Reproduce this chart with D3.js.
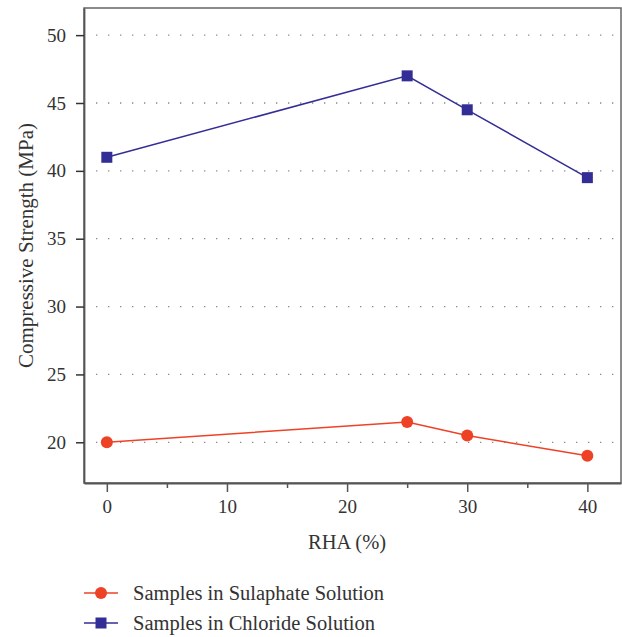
<!DOCTYPE html>
<html>
<head>
<meta charset="utf-8">
<script src="https://cdn.jsdelivr.net/npm/d3@7"></script>
<style>
body { margin: 0; background: #fff; }
text { font-family: "Liberation Serif", "DejaVu Serif", serif; fill: #333; }
</style>
</head>
<body>
<div id="graphDiv"></div>
<script>
// data
var rha = [0, 25, 30, 40];
var sulphate = [20, 21.5, 20.5, 19];
var chloride = [41, 47, 44.5, 39.5];
var xMajor = [0, 10, 20, 30, 40];
var xMinor = [5, 15, 25, 35];
var yTicks = [20, 25, 30, 35, 40, 45, 50];
var seriesNames = ["Samples in Sulaphate Solution", "Samples in Chloride Solution"];

var W = 622, H = 637;
var margin = {top: 8, right: 1, bottom: 154, left: 84},
width = W - margin.left - margin.right,
height = H - margin.top - margin.bottom;

var svg = d3.select("#graphDiv")
.append("svg")
.attr("width", W)
.attr("height", H);

var g = svg.append("g")
.attr("transform", "translate(" + margin.left + "," + margin.top + ")");

var x = d3.scaleLinear().domain([-1.9, 42.8]).range([0, width]);
var y = d3.scaleLinear().domain([17, 52]).range([height, 0]);

// dotted grid
g.selectAll(".grid")
.data(yTicks)
.enter()
.append("line")
.attr("x1", 12)
.attr("x2", width)
.attr("y1", function(d) { return y(d); })
.attr("y2", function(d) { return y(d); })
.attr("stroke", "#888")
.attr("stroke-width", 1.3)
.attr("stroke-dasharray", "1.3,10.7");

// frame
g.append("rect")
.attr("width", width)
.attr("height", height)
.attr("fill", "none")
.attr("stroke", "#666")
.attr("stroke-width", 1.5);

// y axis
var yAxis = g.append("g")
.call(d3.axisLeft(y).tickValues(yTicks).tickSize(8).tickSizeOuter(0).tickPadding(10));
yAxis.select(".domain").attr("stroke", "#555").attr("stroke-width", 1.8);
yAxis.selectAll(".tick line").attr("stroke", "#333").attr("stroke-width", 1.5);
yAxis.selectAll("text").style("font-size", "19px").attr("fill", "#333");

// x axis
var xAxis = g.append("g")
.attr("transform", "translate(0," + height + ")")
.call(d3.axisBottom(x).tickValues(xMajor).tickSize(9).tickSizeOuter(0).tickPadding(8));
xAxis.select(".domain").attr("stroke", "#555").attr("stroke-width", 1.8);
xAxis.selectAll(".tick line").attr("stroke", "#555").attr("stroke-width", 1.5);
xAxis.selectAll("text").style("font-size", "19px").attr("fill", "#333");

var xAxisMinor = g.append("g")
.attr("transform", "translate(0," + height + ")")
.call(d3.axisBottom(x).tickValues(xMinor).tickSize(5).tickFormat(""));
xAxisMinor.select(".domain").remove();
xAxisMinor.selectAll(".tick line").attr("stroke", "#555").attr("stroke-width", 1.5);

// axis titles
g.append("text")
.attr("x", x(20))
.attr("y", height + 66)
.attr("text-anchor", "middle")
.style("font-size", "20.5px")
.text("RHA (%)");

g.append("text")
.attr("transform", "translate(" + (-51) + "," + (height / 2) + ")rotate(-90)")
.attr("text-anchor", "middle")
.style("font-size", "21px")
.text("Compressive Strength (MPa)");

var line = d3.line()
.x(function(d) { return x(d[0]); })
.y(function(d) { return y(d[1]); });

var red = "#ee4226", blue = "#332e95";

// sulphate series
var sData = d3.zip(rha, sulphate);
g.append("path")
.datum(sData)
.attr("d", line)
.attr("fill", "none")
.attr("stroke", red)
.attr("stroke-width", 1.5);
g.selectAll(".sdot")
.data(sData)
.enter()
.append("circle")
.attr("cx", function(d) { return x(d[0]); })
.attr("cy", function(d) { return y(d[1]); })
.attr("r", 6)
.attr("fill", red);

// chloride series
var cData = d3.zip(rha, chloride);
g.append("path")
.datum(cData)
.attr("d", line)
.attr("fill", "none")
.attr("stroke", blue)
.attr("stroke-width", 1.5);
g.selectAll(".cdot")
.data(cData)
.enter()
.append("rect")
.attr("x", function(d) { return x(d[0]) - 5.5; })
.attr("y", function(d) { return y(d[1]) - 5.5; })
.attr("width", 11)
.attr("height", 11)
.attr("fill", blue);

// legend
var legend = svg.append("g").attr("transform", "translate(84,593)");
var items = legend.selectAll("g")
.data(seriesNames)
.enter()
.append("g")
.attr("transform", function(d, i) { return "translate(0," + (i * 30) + ")"; });
items.append("line")
.attr("x1", 0).attr("x2", 34)
.attr("stroke", function(d, i) { return i === 0 ? red : blue; })
.attr("stroke-width", 1.5);
items.each(function(d, i) {
  var s = d3.select(this);
  if (i === 0) {
    s.append("circle").attr("cx", 17).attr("r", 6).attr("fill", red);
  } else {
    s.append("rect").attr("x", 11.5).attr("y", -5.5).attr("width", 11).attr("height", 11).attr("fill", blue);
  }
});
items.append("text")
.attr("x", 49)
.attr("dy", "0.35em")
.style("font-size", "20.5px")
.text(function(d) { return d; });
</script>
</body>
</html>
